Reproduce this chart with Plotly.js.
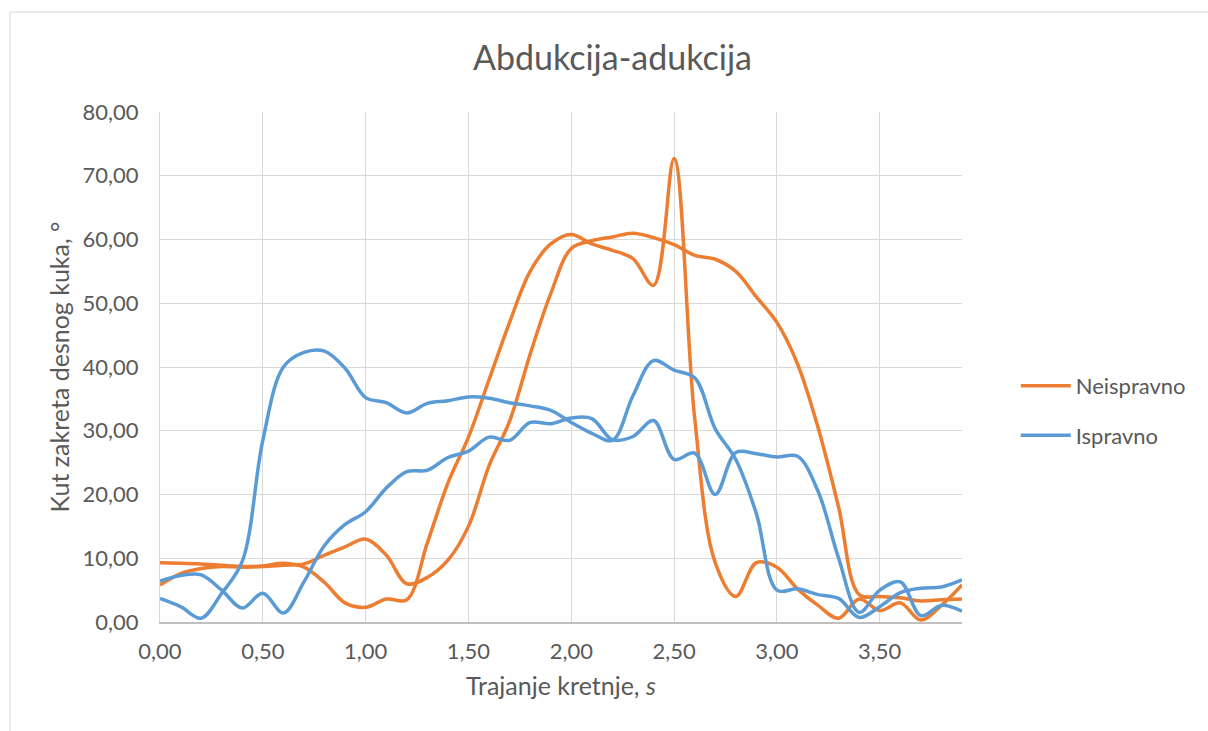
<!DOCTYPE html>
<html>
<head>
<meta charset="utf-8">
<script src="https://cdn.plot.ly/plotly-3.0.1.min.js"></script>
<style>
html, body { margin: 0; padding: 0; background: #ffffff; }
#chart { width: 1208px; height: 731px; }
</style>
</head>
<body>
<div id="chart"></div>
<script>
// Time axis (s)
var time = [0.0, 0.1, 0.2, 0.3, 0.4, 0.5, 0.6, 0.7, 0.8, 0.9,
            1.0, 1.1, 1.2, 1.3, 1.4, 1.5, 1.6, 1.7, 1.8, 1.9,
            2.0, 2.1, 2.2, 2.3, 2.4, 2.5, 2.6, 2.7, 2.8, 2.9,
            3.0, 3.1, 3.2, 3.3, 3.4, 3.5, 3.6, 3.7, 3.8, 3.9];

// Neispravno (incorrect) - two trials
var neispravno1 = [9.3, 9.2, 9.1, 8.9, 8.7, 8.8, 9.2, 8.6, 6.2, 3.0,
                   2.3, 3.6, 3.5, 12.4, 21.8, 29.0, 38.0, 47.0, 55.0, 59.3,
                   60.8, 59.3, 58.3, 57.0, 52.8, 72.7, 32.0, 9.3, 4.0, 9.3,
                   8.6, 5.2, 2.6, 0.6, 3.6, 1.8, 3.0, 0.3, 2.6, 5.8];
var neispravno2 = [5.8, 7.6, 8.4, 8.7, 8.6, 8.7, 8.9, 9.1, 10.5, 11.8,
                   13.0, 10.5, 6.0, 7.0, 9.7, 15.0, 24.5, 31.5, 42.0, 51.5,
                   58.6, 59.8, 60.4, 61.0, 60.3, 59.2, 57.5, 56.9, 55.0, 51.0,
                   47.0, 40.5, 30.5, 18.0, 4.3, 4.0, 3.8, 3.3, 3.5, 3.6];

// Ispravno (correct) - two trials
var ispravno1 = [3.7, 2.4, 0.6, 4.5, 9.5, 28.5, 40.0, 42.3, 42.5, 39.8,
                 35.2, 34.4, 32.8, 34.3, 34.7, 35.3, 35.1, 34.4, 33.9, 33.2,
                 31.3, 29.6, 28.5, 35.5, 41.0, 39.5, 38.3, 30.3, 25.5, 17.0,
                 5.0, 5.2, 4.3, 3.7, 0.7, 2.4, 4.6, 5.3, 5.5, 6.6];
var ispravno2 = [6.4, 7.3, 7.4, 5.0, 2.2, 4.5, 1.4, 6.3, 12.0, 15.3,
                 17.3, 21.0, 23.6, 23.8, 25.8, 26.8, 29.0, 28.5, 31.3, 31.1,
                 32.0, 31.9, 28.6, 29.1, 31.6, 25.5, 26.5, 20.0, 26.6, 26.4,
                 25.9, 26.0, 20.5, 10.0, 1.5, 5.0, 6.3, 1.0, 2.6, 1.7];

var seriesNames = ["Neispravno", "Ispravno"];
var orange = "#ED7D31";
var blue = "#5B9BD5";

function trace(y, name, color, show, group) {
  return {
    x: time, y: y, type: "scatter", mode: "lines", name: name,
    legendgroup: group, showlegend: show,
    line: { color: color, width: 3.5, shape: "spline", smoothing: 1 },
    hoverinfo: "x+y"
  };
}

var data = [
  trace(neispravno1, seriesNames[0], orange, true, "g1"),
  trace(neispravno2, seriesNames[0], orange, false, "g1"),
  trace(ispravno1, seriesNames[1], blue, true, "g2"),
  trace(ispravno2, seriesNames[1], blue, false, "g2")
];

var fontFam = "Lato, 'Open Sans', sans-serif";
var textColor = "#595959";

var layout = {
  width: 1208, height: 731,
  paper_bgcolor: "#ffffff", plot_bgcolor: "#ffffff",
  margin: { l: 160, r: 246, t: 112, b: 109 },
  separators: ",.",
  font: { family: fontFam, color: textColor, size: 22 },
  title: {
    text: "Abdukcija-adukcija",
    font: { family: fontFam, size: 34, color: textColor },
    xref: "container", x: 0.507, xanchor: "center",
    yref: "container", y: 0.921, yanchor: "middle"
  },
  xaxis: {
    range: [0, 3.9], dtick: 0.5, tick0: 0, tickformat: ".2f",
    showgrid: true, gridcolor: "#d9d9d9", gridwidth: 1.3,
    showline: true, linecolor: "#bfbfbf", linewidth: 1.5,
    zeroline: false, ticks: "", ticklabelstandoff: 9,
    tickfont: { family: fontFam, size: 22, color: textColor },
    title: { text: "Trajanje kretnje, <i>s</i>", font: { family: fontFam, size: 25, color: textColor }, standoff: 14 }
  },
  yaxis: {
    range: [0, 80], dtick: 10, tick0: 0, tickformat: ".2f",
    showgrid: true, gridcolor: "#d9d9d9", gridwidth: 1.3,
    showline: true, linecolor: "#d9d9d9", linewidth: 1.3,
    zeroline: false, ticks: "", ticklabelstandoff: 16,
    tickfont: { family: fontFam, size: 22, color: textColor },
    title: { text: "Kut zakreta desnog kuka, °", font: { family: fontFam, size: 25, color: textColor }, standoff: 5 }
  },
  legend: {
    x: 1.067, xanchor: "left", y: 0.414, yanchor: "middle",
    font: { family: fontFam, size: 22, color: textColor },
    itemwidth: 50,
    tracegroupgap: 18, bgcolor: "rgba(0,0,0,0)"
  },
  shapes: [{
    type: "rect", xref: "paper", yref: "paper", layer: "below",
    x0: -0.187, x1: 1.32, y0: -0.3, y1: 1.196,
    line: { color: "#d9d9d9", width: 1 }, fillcolor: "rgba(0,0,0,0)"
  }]
};

Plotly.newPlot("chart", data, layout, { displayModeBar: false, responsive: false });
</script>
</body>
</html>
